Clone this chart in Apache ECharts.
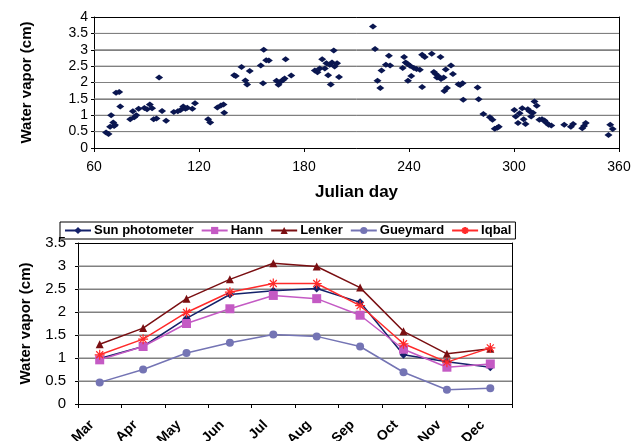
<!DOCTYPE html>
<html><head><meta charset="utf-8">
<script src="https://cdn.jsdelivr.net/npm/echarts@6/dist/echarts.min.js"></script>
<style>html,body{margin:0;padding:0;background:#fff}#c{width:636px;height:441px}</style>
</head><body><div id="c"></div>
<script>
// Top chart: daily sun photometer water vapor
const julianDays = [66.9,68.3,69.2,69.8,71,71.5,72,72.6,74.4,75,80.7,82.2,83,84.2,85.5,88.8,90.3,91.9,93.2,94.1,95.7,97.2,98.9,101.2,105.6,107.9,109.5,111,112.3,113.3,116.2,117.7,125.2,126.4,130.5,132.5,134,134.4,140.1,141,144.3,146.5,147.5,149,155.3,157,156.6,158.4,159.9,164.3,165.4,166.6,168,168.9,169.5,172.7,
186.2,187.7,189,190.4,191.9,192.8,194.7,196,197.5,198.9,193.8,195.3,197,200,219.4,220.6,222,223.6,224.3,226.8,229.2,228.5,236.4,237.2,238.1,239,240.6,239.4,241.3,242.8,244.3,246.2,247.5,247.5,249,253,254.2,255.1,256,257,258.3,259.8,258,261,260.2,261.7,264,265.1,268.3,269.2,270.6,271,279.2,279.8,282.5,286.2,287.7,289,290.4,291.3,300.2,301,302.3,303.2,304.7,305.5,306.6,307.9,308.9,309.8,310.8,311.7,313,314.5,316,317.4,318.3,319.8,321.3,328.7,332.5,333.8,339,340,341,354,355,356.4];
const dailyVapor = [0.47,0.43,0.65,1.0,0.78,0.67,0.7,1.69,1.71,1.27,0.88,1.12,0.94,1.0,1.2,1.22,1.18,1.33,1.21,0.88,0.9,2.15,1.13,0.83,1.1,1.12,1.16,1.27,1.2,1.23,1.2,1.37,0.88,0.78,1.24,1.3,1.33,1.08,2.22,2.2,2.47,2.06,1.94,2.35,2.52,3.0,1.98,2.68,2.67,2.05,1.93,2.02,2.08,2.12,2.71,2.21,
2.37,2.31,2.43,2.71,2.43,2.59,2.54,2.61,2.49,2.59,2.22,1.94,2.98,2.17,3.71,3.02,2.05,1.83,2.37,2.54,2.52,2.82,2.44,2.78,2.61,2.57,2.51,2.05,2.2,2.44,2.41,2.39,1.86,2.85,2.78,2.88,2.32,2.27,2.15,2.18,2.11,2.15,2.78,2.4,1.74,1.83,2.52,2.26,1.95,1.92,1.98,1.47,1.85,1.49,1.04,0.94,0.86,0.59,0.62,0.65,1.16,0.96,0.76,1.06,1.21,0.88,0.73,1.18,1.12,0.96,1.08,1.42,1.29,0.86,0.88,0.84,0.78,0.71,0.69,0.71,0.65,0.73,0.6,0.67,0.76,0.40,0.71,0.58];

// Bottom chart: monthly means
const months = ['Mar','Apr','May','Jun','Jul','Aug','Sep','Oct','Nov','Dec'];
const sunPhotometer = [0.99,1.25,1.86,2.38,2.46,2.51,2.21,1.07,0.92,0.80];
const hann = [0.96,1.25,1.75,2.07,2.36,2.29,1.93,1.19,0.80,0.87];
const lenker = [1.30,1.65,2.29,2.71,3.06,2.99,2.53,1.58,1.09,1.20];
const gueymard = [0.47,0.75,1.11,1.33,1.51,1.47,1.25,0.69,0.31,0.34];
const iqbal = [1.07,1.41,1.99,2.43,2.62,2.62,2.14,1.31,0.91,1.22];

// Gridline tick values
const topGridTicks = [0.5,1,1.5,2,2.5,3,3.5];
const bottomGridTicks = [0.5,1,1.5,2,2.5,3];

const FONT = 'Arial, "Liberation Sans", sans-serif';
const scatterData = julianDays.map((d, i) => [d, dailyVapor[i]]);
const STAR = 'path://M0,-10L0,10M-10,0L10,0M-7,-7L7,7M-7,7L7,-7';

const chart = echarts.init(document.getElementById('c'));
const gridColor = '#808080';

// gridlines drawn as plain line series through the axes' scales
function gridSeries(ticks, xIdx, yIdx, x0, x1) {
  return ticks.map(v => ({
    type: 'line', xAxisIndex: xIdx, yAxisIndex: yIdx, silent: true, z: 1,
    symbol: 'none', animation: false, tooltip: {show: false},
    lineStyle: {color: gridColor, width: 1},
    emphasis: {disabled: true},
    data: [[x0, v], [x1, v]]
  }));
}
function lineSeries(name, data, color, symbol, size, extra) {
  return Object.assign({
    name, type: 'line', xAxisIndex: 1, yAxisIndex: 1, data,
    symbol, symbolSize: size, z: 3,
    lineStyle: {color, width: 1.5},
    itemStyle: {color, opacity: 1},
    animation: false
  }, extra || {});
}
function frameX(gridIndex) {
  return {gridIndex, type: 'value', position: 'top', min: 0, max: 1,
    axisLine: {show: true, onZero: false, lineStyle: {color: '#000'}},
    axisTick: {show: false}, axisLabel: {show: false}, splitLine: {show: false}};
}
function frameY(gridIndex) {
  return {gridIndex, type: 'value', position: 'right', min: 0, max: 1,
    axisLine: {show: true, onZero: false, lineStyle: {color: '#000'}},
    axisTick: {show: false}, axisLabel: {show: false}, splitLine: {show: false}};
}
chart.setOption({
  animation: false,
  textStyle: {fontFamily: FONT},
  grid: [
    {left: 94, width: 525, top: 17, height: 131, outerBoundsMode: 'none', containLabel: false},
    {left: 78, width: 434, top: 243, height: 161, outerBoundsMode: 'none', containLabel: false}
  ],
  legend: {
    left: 60, top: 222, itemWidth: 26, itemHeight: 9, itemGap: 7,
    padding: [2, 4], borderColor: '#000', borderWidth: 1,
    textStyle: {fontFamily: FONT, fontWeight: 'bold', fontSize: 13, color: '#000', padding: [0,0,0,-2]},
    data: ['Sun photometer','Hann','Lenker','Gueymard','Iqbal']
  },
  xAxis: [
    {gridIndex: 0, type: 'value', min: 60, max: 360, interval: 60,
     axisLine: {onZero: false, lineStyle: {color: '#000'}}, axisTick: {show: true, length: 4, lineStyle: {color: '#000'}},
     splitLine: {show: false},
     axisLabel: {color: '#000', fontSize: 14, margin: 12, fontFamily: FONT},
     name: 'Julian day', nameLocation: 'middle', nameGap: 36,
     nameTextStyle: {fontSize: 17, fontWeight: 'bold', color: '#000', fontFamily: FONT}},
    {gridIndex: 1, type: 'category', data: months, boundaryGap: true,
     axisLine: {onZero: false, lineStyle: {color: '#000'}},
     axisTick: {show: true, length: 4, alignWithLabel: false, lineStyle: {color: '#000'}},
     splitLine: {show: false},
     axisLabel: {color: '#000', fontSize: 14, fontWeight: 'bold', rotate: 45, margin: 11, padding: [0, 11, 0, 0], interval: 0, fontFamily: FONT}},
    frameX(0),
    frameX(1)
  ],
  yAxis: [
    {gridIndex: 0, type: 'value', min: 0, max: 4, interval: 0.5,
     axisLine: {show: true, onZero: false, lineStyle: {color: '#000'}},
     axisTick: {show: true, length: 3, lineStyle: {color: '#000'}},
     splitLine: {show: true, lineStyle: {color: gridColor, width: 1}},
     axisLabel: {color: '#000', fontSize: 14, margin: 6, fontFamily: FONT},
     name: 'Water vapor (cm)', nameLocation: 'middle', nameGap: 60, nameRotate: 90,
     nameTextStyle: {fontSize: 15, fontWeight: 'bold', color: '#000', fontFamily: FONT}},
    {gridIndex: 1, type: 'value', min: 0, max: 3.5, interval: 0.5,
     axisLine: {show: true, onZero: false, lineStyle: {color: '#000'}},
     axisTick: {show: true, length: 3, lineStyle: {color: '#000'}},
     splitLine: {show: true, lineStyle: {color: gridColor, width: 1}},
     axisLabel: {color: '#000', fontSize: 15, margin: 12, fontFamily: FONT},
     name: 'Water vapor (cm)', nameLocation: 'middle', nameGap: 45, nameRotate: 90,
     nameTextStyle: {fontSize: 15, fontWeight: 'bold', color: '#000', fontFamily: FONT}},
    frameY(0),
    frameY(1)
  ],
  series: [].concat(
    gridSeries(topGridTicks, 0, 0, 60, 360),
    gridSeries(bottomGridTicks, 3, 1, 0, 1),
    [
      {type: 'scatter', xAxisIndex: 0, yAxisIndex: 0, data: scatterData, z: 3,
       symbol: 'diamond', symbolSize: [8, 6], itemStyle: {color: '#0a1650', opacity: 1}, animation: false},
      lineSeries('Sun photometer', sunPhotometer, '#14216a', 'diamond', 8),
      lineSeries('Hann', hann, '#c45ac4', 'rect', 9),
      lineSeries('Lenker', lenker, '#7a0f12', 'triangle', 8),
      lineSeries('Gueymard', gueymard, '#7474b4', 'circle', 8),
      lineSeries('Iqbal', iqbal, '#ff2a2a', STAR, 10,
        {itemStyle: {color: '#ff2a2a', borderColor: '#ff2a2a', borderWidth: 1.2, opacity: 1}})
    ]
  )
});
</script></body></html>
